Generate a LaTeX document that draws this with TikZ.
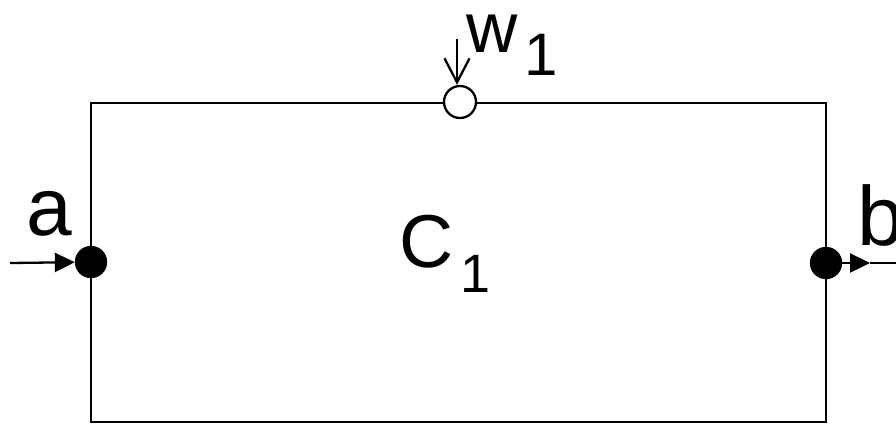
\documentclass[tikz,border=0pt]{standalone}
\usepackage{fontspec}
\setmainfont{Liberation Sans}
\usepackage{tikz}
\usetikzlibrary{arrows.meta, positioning}

\begin{document}
\begin{tikzpicture}[
        x=1pt, y=-1pt,
        line width=2.3pt,
        block/.style={rectangle, draw, minimum width=735pt, minimum height=319pt,
                      inner sep=0pt},
        port/.style={circle, draw, fill=#1, minimum size=30pt, inner sep=0pt},
        port/.default=black,
        lbl/.style={anchor=base west, inner sep=0pt, font=\fontsize{#1}{#1}\selectfont},
        arrow/.style={-{Triangle[length=20pt, width=19pt]}},
        openarrow/.style={-{Straight Barb[length=24pt, width=25pt]}}
    ]
        \useasboundingbox (0,0) rectangle (896,424);

        % Nodes
        \node[block] (blk) at (458.5,262.5) {};
        \node[port] (pa) at (91,262) {};
        \node[port] (pb) at (826,263) {};
        \node[port=white, minimum size=32pt] (pw) at (460,102) {};
        \node[lbl=82] (la) at (25,235) {a};
        \node[lbl=84] (lb) at (856,245) {b};
        \node[lbl=75] (lc) at (398,267) {C\hspace{7pt}\raisebox{-25pt}{\fontsize{54}{54}\selectfont 1}};
        \node[lbl=71] (lw) at (465,52) {w\hspace{7pt}\raisebox{-23pt}{\fontsize{60}{60}\selectfont 1}};
        \coordinate (ina) at (10,263);
        \coordinate (tipb) at (870,263);
        \coordinate (outb) at (896,263);
        \coordinate (inw) at (457,39);

        % Arrows
        \draw[arrow] (ina) -- (pa);
        \draw[arrow] (pb) -- (tipb);
        \draw (tipb) -- (outb);
        \draw[openarrow] (inw) -- (inw |- pw.north);
    \end{tikzpicture}
\end{document}
